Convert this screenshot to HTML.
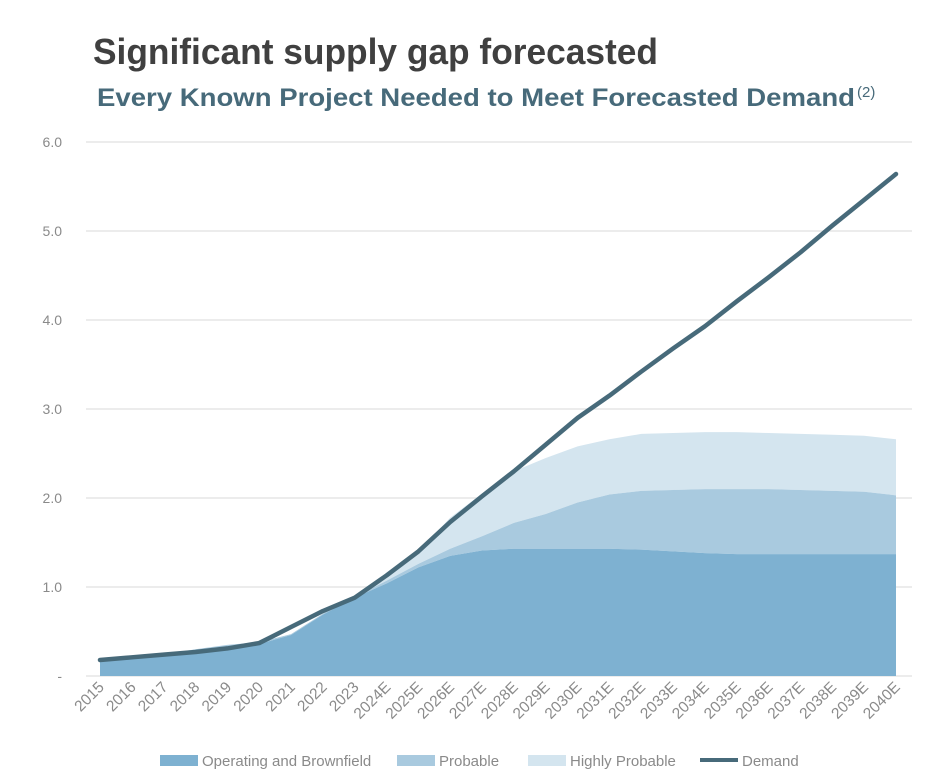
<!DOCTYPE html>
<html><head><meta charset="utf-8"><style>
html,body{margin:0;padding:0;background:#fff;}
svg{display:block;font-family:"Liberation Sans",Arial,sans-serif;}
</style></head><body>
<svg id="chart" width="951" height="779">
<text x="93" y="64" font-size="36" font-weight="bold" fill="#404040" textLength="565" lengthAdjust="spacingAndGlyphs">Significant supply gap forecasted</text>
<text x="97" y="106" font-size="25" font-weight="bold" fill="#476a7a" textLength="758" lengthAdjust="spacingAndGlyphs">Every Known Project Needed to Meet Forecasted Demand</text>
<text x="857" y="97" font-size="15" fill="#476a7a">(2)</text>
<g id="grid"></g><g id="areas"></g><g id="lines"></g><g id="xlabels"></g><g id="legend"></g>
</svg>
<script>
const categories=["2015","2016","2017","2018","2019","2020","2021","2022","2023","2024E","2025E","2026E","2027E","2028E","2029E","2030E","2031E","2032E","2033E","2034E","2035E","2036E","2037E","2038E","2039E","2040E"];
const operating=[0.17,0.2,0.23,0.26,0.3,0.36,0.46,0.69,0.88,1.04,1.22,1.35,1.41,1.43,1.43,1.43,1.43,1.42,1.4,1.38,1.37,1.37,1.37,1.37,1.37,1.37];
const probable=[0,0,0.01,0.04,0.05,0.02,0.01,0.01,0.01,0.03,0.04,0.08,0.16,0.29,0.39,0.52,0.61,0.66,0.69,0.72,0.73,0.73,0.72,0.71,0.7,0.66];
const highlyProbable=[0,0,0,0,0,0,0,0,0,0.03,0.14,0.35,0.48,0.58,0.63,0.63,0.62,0.64,0.64,0.64,0.64,0.63,0.63,0.63,0.63,0.63];
const demand=[0.18,0.21,0.24,0.27,0.31,0.37,0.55,0.73,0.88,1.13,1.4,1.73,2.02,2.3,2.6,2.9,3.15,3.42,3.68,3.93,4.21,4.48,4.76,5.06,5.35,5.64];
const yTicks=[0,1,2,3,4,5,6];
const yTickLabels=["-","1.0","2.0","3.0","4.0","5.0","6.0"];
const legendLabels=["Operating and Brownfield","Probable","Highly Probable","Demand"];

const NS="http://www.w3.org/2000/svg";
const x=i=>100+i*(796/(categories.length-1));
const y=v=>676-v*89;
function mk(tag,attrs,parent){const e=document.createElementNS(NS,tag);for(const k in attrs)e.setAttribute(k,attrs[k]);document.getElementById(parent).appendChild(e);return e;}

yTicks.forEach((t,i)=>{
  const l=mk('line',{x1:86,x2:912,y1:y(t),y2:y(t),stroke:'#e6e6e6','stroke-width':1.5},'grid');
  
  
  const tx=mk('text',{x:62,y:y(t)+5,'text-anchor':'end','font-size':14,fill:'#8a8a8a'},'grid');
  tx.textContent=yTickLabels[i];
  
  
});

const c1=operating.slice();
const c2=operating.map((v,i)=>v+probable[i]);
const c3=c2.map((v,i)=>v+highlyProbable[i]);
function area(top,bottom,fill,name){
  let d='M'+x(0)+','+y(top[0]);
  for(let i=1;i<top.length;i++)d+=' L'+x(i)+','+y(top[i]);
  for(let i=bottom.length-1;i>=0;i--)d+=' L'+x(i)+','+y(bottom[i]);
  const p=mk('path',{d:d+'Z',fill:fill},'areas');
  
  
}
const zeros=categories.map(()=>0);
area(c3,c2,'#d4e5ef','highly-probable-area');
area(c2,c1,'#a9cadf','probable-area');
area(c1,zeros,'#7eb1d1','operating-area');

const dp=mk('polyline',{points:demand.map((v,i)=>x(i)+','+y(v)).join(' '),fill:'none',stroke:'#476a7a','stroke-width':4.5,'stroke-linejoin':'round','stroke-linecap':'round'},'lines');



categories.forEach((c,i)=>{
  const t=mk('text',{x:x(i)+5,y:688,'text-anchor':'end','font-size':15.5,fill:'#8a8a8a',transform:'rotate(-45 '+(x(i)+5)+' 688)'},'xlabels');
  t.textContent=c;
  
  
});

const legX=[160,397,528,700];
const legColors=['#7eb1d1','#a9cadf','#d4e5ef','#476a7a'];
legendLabels.forEach((lab,i)=>{
  if(i<3){const r=mk('rect',{x:legX[i],y:755,width:38,height:11,fill:legColors[i]},'legend');
    
    }
  else{const l=mk('line',{x1:legX[i],x2:legX[i]+38,y1:760,y2:760,stroke:legColors[i],'stroke-width':4},'legend');
    
    }
  const t=mk('text',{x:legX[i]+42,y:766,'font-size':15,fill:'#8a8a8a'},'legend');
  t.textContent=lab;
  
  
});
</script>
</body></html>
